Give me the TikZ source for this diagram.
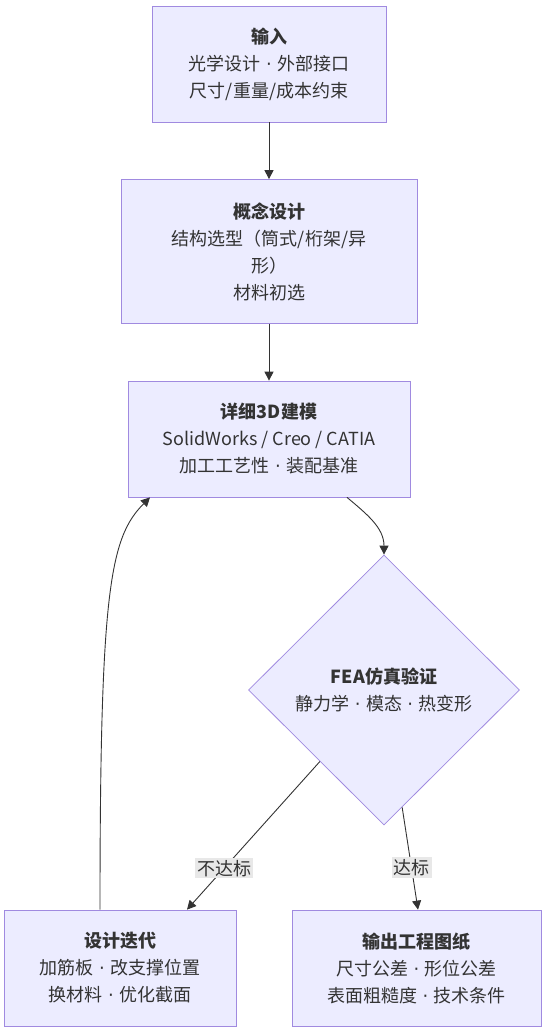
\documentclass[tikz,border=0pt]{standalone}
\usepackage{fontspec}
\setmainfont{Noto Sans CJK SC}
\newfontfamily\dotfont{DejaVu Sans}
\usepackage{tikz}
\usetikzlibrary{arrows.meta,shapes.geometric}
\definecolor{boxfill}{HTML}{ECECFF}
\definecolor{boxline}{HTML}{A08AE0}
\definecolor{ink}{HTML}{333333}
\definecolor{lblbg}{HTML}{E8E8E8}
\newcommand{\sep}{\hspace{0.3em}{\dotfont ·}\hspace{0.3em}}

\begin{document}
\begin{tikzpicture}[x=1pt,y=1pt,
every node/.style={text=ink,font=\fontsize{18}{27}\selectfont,align=center},
box/.style={draw=boxline,fill=boxfill,line width=0.75pt,inner sep=0pt},
decide/.style={box,diamond,aspect=1,minimum width=271pt,minimum height=270pt},
lbl/.style={fill=lblbg,inner sep=2pt},
flow/.style={draw=ink,line width=0.9pt,-{Triangle[length=9pt,width=9pt]}}]
\useasboundingbox (0,0) rectangle (552,-1034);
\def\boxh{116pt}
%main chain
\node[box,minimum width=234pt,minimum height=\boxh](in) at (269,-64)
	{\textbf{输入}\\光学设计\sep 外部接口\\尺寸/重量/成本约束};
\node[box,minimum width=296pt,minimum height=144pt](concept) at (269,-251.5)
	{\textbf{概念设计}\\结构选型（筒式/桁架/异\\形）\\材料初选};
\node[box,minimum width=282pt,minimum height=\boxh](model) at (269,-439)
	{\textbf{详细3D建模}\\SolidWorks / Creo / CATIA\\加工工艺性\sep 装配基准};
\node[decide](fea) at (384,-690)
	{\textbf{FEA仿真验证}\\静力学\sep 模态\sep 热变形};
%two outcomes
\node[box,minimum width=232pt,minimum height=\boxh](iter) at (120,-968)
	{\textbf{设计迭代}\\加筋板\sep 改支撑位置\\换材料\sep 优化截面};
\node[box,minimum width=249pt,minimum height=\boxh](out) at (416.5,-968)
	{\textbf{输出工程图纸}\\尺寸公差\sep 形位公差\\表面粗糙度\sep 技术条件};

%edges
\draw[flow] (in) -- (concept);
\draw[flow] (concept) -- (model);
\draw[flow] ([xshift=78pt]model.south) to[out=-40,in=90] (fea.north);
\draw[flow] (fea) -- node[lbl,pos=0.72] {不达标} ([xshift=67pt]iter.north);
\draw[flow] (fea) -- node[lbl,pos=0.59] {达标} ([xshift=1.5pt]out.north);
%loop back
\draw[flow] ([xshift=-20pt]iter.north) .. controls +(0,320) and +(-40,-40) .. ([xshift=-119pt]model.south);
\end{tikzpicture}
\end{document}
